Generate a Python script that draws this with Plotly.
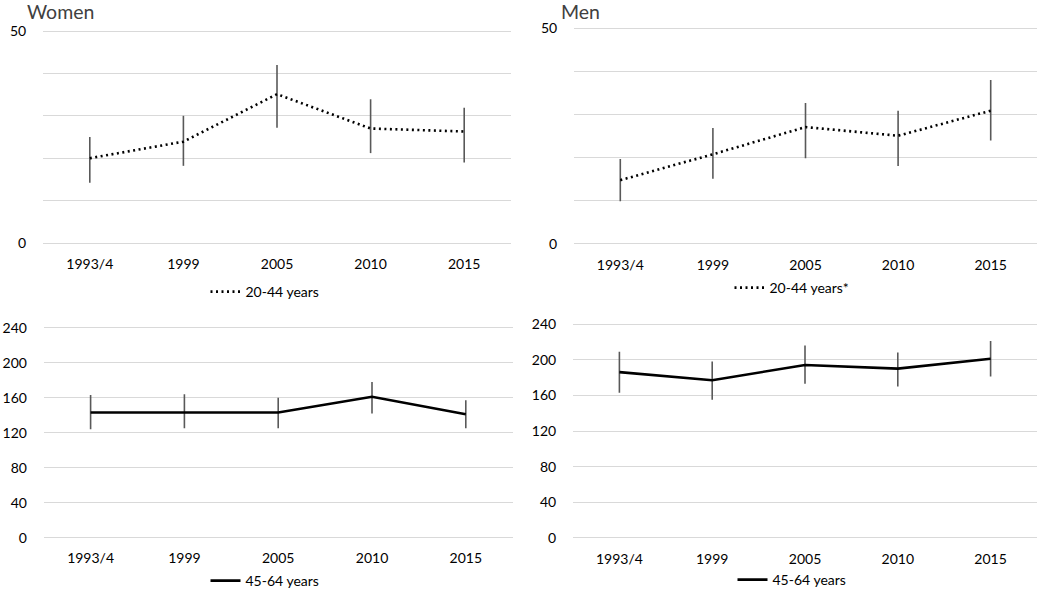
import plotly.graph_objects as go

years = ["1993/4", "1999", "2005", "2010", "2015"]

women_young = [20.0, 23.9, 35.1, 27.0, 26.3]
women_young_hi = [25.0, 30.0, 42.0, 33.9, 31.9]
women_young_lo = [14.2, 18.2, 27.2, 21.2, 19.0]

men_young = [14.8, 20.8, 27.1, 25.1, 30.9]
men_young_hi = [19.7, 26.9, 32.7, 30.9, 38.0]
men_young_lo = [9.9, 15.1, 19.9, 18.1, 24.0]

women_old = [143, 143, 143, 161, 141]
women_old_hi = [163, 164, 160, 178, 157]
women_old_lo = [124, 125, 125, 142, 125]

men_old = [186, 177, 194, 190, 201]
men_old_hi = [209, 198, 216, 208, 221]
men_old_lo = [163, 155, 173, 170, 181]

top_ticks = [0, 10, 20, 30, 40, 50]
top_ticktext = ["0", "", "", "", "", "50"]
bottom_ticks = [0, 40, 80, 120, 160, 200, 240]

FONT = "Lato, Open Sans, sans-serif"
ERR_COLOR = "#595959"

fig = go.Figure()

def add_series(vals, hi, lo, name, xa, ya, legend, dash):
    fig.add_trace(go.Scatter(
        x=years, y=vals, mode="lines", name=name,
        line=dict(color="black", width=2.6, dash=dash),
        error_y=dict(type="data", symmetric=False,
                     array=[h - v for h, v in zip(hi, vals)],
                     arrayminus=[v - l for v, l in zip(vals, lo)],
                     color=ERR_COLOR, thickness=1.6, width=0),
        xaxis=xa, yaxis=ya, legend=legend, showlegend=True,
    ))

add_series(women_young, women_young_hi, women_young_lo, "20-44 years", "x", "y", "legend", "2px,3.5px")
add_series(men_young, men_young_hi, men_young_lo, "20-44 years*", "x2", "y2", "legend2", "2px,3.5px")
add_series(women_old, women_old_hi, women_old_lo, "45-64 years", "x3", "y3", "legend3", "solid")
add_series(men_old, men_old_hi, men_old_lo, "45-64 years", "x4", "y4", "legend4", "solid")

H = 594.0
W = 1050.0

def xdom(a, b):
    return [a / W, b / W]

def ydom(top, bottom):
    return [1 - bottom / H, 1 - top / H]

xcommon = dict(type="category", range=[-0.5, 4.5], showgrid=False, showline=False,
               zeroline=False, ticks="outside", ticklen=6, tickcolor="rgba(0,0,0,0)",
               tickfont=dict(family=FONT, size=14, color="black"))
ycommon = dict(showgrid=True, gridcolor="#d9d9d9", gridwidth=1.2, showline=False,
               zeroline=False, ticks="outside", ticklen=13, tickcolor="rgba(0,0,0,0)",
               tickfont=dict(family=FONT, size=14, color="black"))

legcommon = dict(orientation="h", xanchor="center", yanchor="middle",
                 font=dict(family=FONT, size=14, color="black"),
                 bgcolor="rgba(0,0,0,0)", itemwidth=30)

# padding on the value ranges so the end gridlines are drawn (plotly clips grid within 1px of ends)
TOP_RANGE = [-0.5, 50.5]
BOT_RANGE = [-2.0, 242.0]
tp = 0.5 * 4.24   # px of padding, top panels
bp = 2.0 * 0.88   # px of padding, bottom panels

fig.update_layout(
    width=1050, height=594, margin=dict(l=0, r=0, t=0, b=0, autoexpand=False),
    paper_bgcolor="white", plot_bgcolor="white",
    xaxis=dict(domain=xdom(43, 511), anchor="y", **xcommon),
    yaxis=dict(domain=ydom(31 - tp, 243 + tp), anchor="x", range=TOP_RANGE, tickvals=top_ticks,
               ticktext=top_ticktext, **ycommon),
    xaxis2=dict(domain=xdom(574, 1037), anchor="y2", **xcommon),
    yaxis2=dict(domain=ydom(28.3 - tp, 244 + tp), anchor="x2", range=TOP_RANGE, tickvals=top_ticks,
                ticktext=top_ticktext, **ycommon),
    xaxis3=dict(domain=xdom(43.7, 512.7), anchor="y3", **xcommon),
    yaxis3=dict(domain=ydom(327.7 - bp, 537.7 + bp), anchor="x3", range=BOT_RANGE, tickvals=bottom_ticks, **ycommon),
    xaxis4=dict(domain=xdom(573, 1037), anchor="y4", **xcommon),
    yaxis4=dict(domain=ydom(324 - bp, 538 + bp), anchor="x4", range=BOT_RANGE, tickvals=bottom_ticks, **ycommon),
    legend=dict(x=265 / W, y=1 - 292 / H, **legcommon),
    legend2=dict(x=792 / W, y=1 - 288 / H, **legcommon),
    legend3=dict(x=265 / W, y=1 - 581 / H, **legcommon),
    legend4=dict(x=792 / W, y=1 - 580 / H, **legcommon),
    annotations=[
        dict(text="Women", x=25 / W, y=1 + 2 / H, xref="paper", yref="paper",
             xanchor="left", yanchor="top", showarrow=False,
             font=dict(family=FONT, size=19.5, color="#404040")),
        dict(text="Men", x=559 / W, y=1 + 2 / H, xref="paper", yref="paper",
             xanchor="left", yanchor="top", showarrow=False,
             font=dict(family=FONT, size=19.5, color="#404040")),
    ],
)

fig.write_html("out.html", config={"displayModeBar": False},
               post_script="document.body.style.margin='0px';document.body.style.padding='0px';")
